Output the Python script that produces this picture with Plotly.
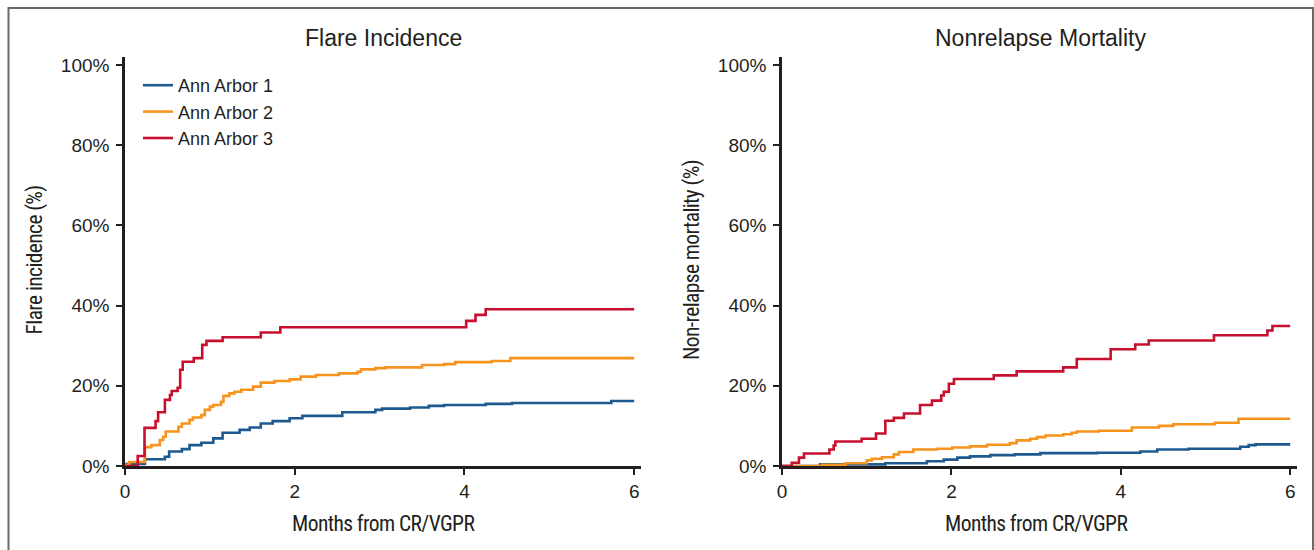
import plotly.graph_objects as go

# ---- Data (months, cumulative %) ----
flare_aa1_x = [0, 0.235, 0.47, 0.52, 0.67, 0.76, 0.90, 1.04, 1.15, 1.35, 1.47, 1.60, 1.74, 1.94, 2.09, 2.56, 2.95, 3.03, 3.36, 3.58, 3.76, 4.25, 4.56, 5.73, 6.0]
flare_aa1_y = [0.5, 1.7, 2.3, 3.6, 4.2, 5.2, 5.8, 6.9, 8.3, 9.0, 9.6, 10.6, 11.2, 11.9, 12.5, 13.4, 14.0, 14.3, 14.6, 15.0, 15.2, 15.5, 15.7, 16.2, 16.2]

flare_aa2_x = [0, 0.05, 0.235, 0.31, 0.41, 0.45, 0.48, 0.63, 0.67, 0.76, 0.80, 0.90, 0.94, 1.0, 1.04, 1.13, 1.16, 1.23, 1.29, 1.37, 1.51, 1.60, 1.76, 1.94, 2.07, 2.25, 2.52, 2.74, 2.78, 2.95, 3.07, 3.5, 3.76, 3.89, 4.32, 4.54, 6.0]
flare_aa2_y = [0.3, 1.0, 4.7, 5.2, 6.5, 7.3, 8.6, 9.8, 10.6, 11.5, 12.1, 12.7, 14.0, 14.8, 15.2, 16.0, 17.5, 18.1, 18.5, 19.0, 19.8, 20.8, 21.2, 21.6, 22.3, 22.7, 23.1, 23.5, 24.1, 24.4, 24.6, 25.2, 25.4, 25.9, 26.2, 26.9, 26.9]

flare_aa3_x = [0, 0.15, 0.23, 0.36, 0.39, 0.47, 0.53, 0.55, 0.62, 0.65, 0.68, 0.81, 0.91, 0.96, 1.15, 1.60, 1.83, 4.02, 4.13, 4.25, 6.0]
flare_aa3_y = [0.0, 2.5, 9.5, 11.2, 13.4, 16.5, 17.7, 18.7, 19.5, 24.0, 26.0, 26.9, 30.2, 31.2, 32.1, 33.3, 34.6, 36.2, 37.7, 39.1, 39.1]

nrm_aa1_x = [0, 0.45, 1.22, 1.71, 1.91, 2.07, 2.22, 2.46, 2.75, 3.05, 3.72, 4.23, 4.43, 4.80, 5.41, 5.51, 5.59, 6.0]
nrm_aa1_y = [0.0, 0.4, 0.7, 1.2, 1.6, 2.1, 2.4, 2.7, 2.9, 3.2, 3.3, 3.6, 4.1, 4.3, 4.8, 5.2, 5.4, 5.4]

nrm_aa2_x = [0, 0.47, 0.75, 1.0, 1.06, 1.18, 1.32, 1.38, 1.55, 1.83, 2.01, 2.22, 2.42, 2.69, 2.77, 2.93, 3.01, 3.11, 3.32, 3.42, 3.48, 3.74, 4.13, 4.45, 4.62, 5.11, 5.39, 6.0]
nrm_aa2_y = [0.0, 0.3, 0.7, 1.4, 1.8, 2.2, 2.9, 3.5, 4.1, 4.3, 4.6, 4.9, 5.3, 5.7, 6.4, 6.8, 7.2, 7.6, 7.9, 8.3, 8.6, 8.8, 9.6, 10.0, 10.4, 10.8, 11.8, 11.8]

nrm_aa3_x = [0, 0.115, 0.20, 0.26, 0.56, 0.61, 0.63, 0.94, 1.11, 1.22, 1.32, 1.44, 1.63, 1.77, 1.88, 1.91, 1.97, 2.03, 2.50, 2.77, 3.32, 3.48, 3.88, 4.17, 4.33, 5.10, 5.73, 5.79, 6.0]
nrm_aa3_y = [0.0, 0.8, 2.1, 3.1, 4.1, 5.1, 6.1, 6.8, 8.1, 11.3, 12.0, 13.1, 15.2, 16.3, 17.6, 18.5, 20.5, 21.7, 22.6, 23.6, 24.6, 26.7, 29.1, 30.3, 31.3, 32.6, 33.8, 34.9, 34.9]

series_names = ["Ann Arbor 1", "Ann Arbor 2", "Ann Arbor 3"]
colors = ["#1d5a8f", "#f7941d", "#c8102e"]

x_ticks = [0, 2, 4, 6]
y_ticks = [0, 20, 40, 60, 80, 100]
y_ticklabels = ["0%", "20%", "40%", "60%", "80%", "100%"]

W, H = 1314, 550
fig = go.Figure()

flare = [(flare_aa1_x, flare_aa1_y), (flare_aa2_x, flare_aa2_y), (flare_aa3_x, flare_aa3_y)]
nrm = [(nrm_aa1_x, nrm_aa1_y), (nrm_aa2_x, nrm_aa2_y), (nrm_aa3_x, nrm_aa3_y)]

for i, (xs, ys) in enumerate(flare):
    fig.add_trace(go.Scatter(x=xs, y=ys, mode="lines", line=dict(color=colors[i], width=2.6, shape="hv"),
                             name=series_names[i], xaxis="x", yaxis="y", showlegend=True))
for i, (xs, ys) in enumerate(nrm):
    fig.add_trace(go.Scatter(x=xs, y=ys, mode="lines", line=dict(color=colors[i], width=2.6, shape="hv"),
                             name=series_names[i], xaxis="x2", yaxis="y2", showlegend=False))

REG = "Liberation Sans, Arial, sans-serif"
COND = "Roboto"
tickfont = dict(family=REG, size=19, color="#231f20")
common_x = dict(range=[0, 6.08], tickvals=x_ticks, showgrid=False, zeroline=False, showline=True,
                linecolor="#231f20", linewidth=2.5, ticks="outside", ticklen=6, tickwidth=2,
                tickcolor="#231f20", tickfont=tickfont, automargin=False, fixedrange=True)
common_y = dict(range=[0, 102], tickvals=y_ticks, ticktext=y_ticklabels, showgrid=False, zeroline=False,
                showline=True, linecolor="#231f20", linewidth=2.5, ticks="outside", ticklen=6, tickwidth=2,
                tickcolor="#231f20", tickfont=tickfont, automargin=False, fixedrange=True,
                ticklabelstandoff=3)

y0, y1 = 1 - 466 / H, 1 - 57 / H
fig.update_layout(
    width=W, height=H,
    margin=dict(l=0, r=0, t=0, b=0),
    paper_bgcolor="white", plot_bgcolor="white",
    xaxis=dict(domain=[125 / W, 641 / W], anchor="y", **common_x),
    yaxis=dict(domain=[y0, y1], anchor="x", **common_y),
    xaxis2=dict(domain=[782 / W, 1297 / W], anchor="y2", **common_x),
    yaxis2=dict(domain=[y0, y1], anchor="x2", **common_y),
    legend=dict(x=138 / W, y=1 - 67 / H, xanchor="left", yanchor="top", bgcolor="rgba(0,0,0,0)",
                font=dict(family=REG, size=18, color="#231f20"),
                tracegroupgap=0, itemwidth=30),
    showlegend=True,
)

annos = [
    dict(text="Flare Incidence", x=383 / W, y=1 - 38 / H, size=23, angle=0, cond=False),
    dict(text="Nonrelapse Mortality", x=1040 / W, y=1 - 38 / H, size=23, angle=0, cond=False),
    dict(text="Months from CR/VGPR", x=383 / W, y=1 - 523 / H, size=21.5, angle=0, cond=True),
    dict(text="Months from CR/VGPR", x=1036 / W, y=1 - 523 / H, size=21.5, angle=0, cond=True),
    dict(text="Flare incidence (%)", x=35 / W, y=1 - 260 / H, size=21.5, angle=-90, cond=True),
    dict(text="Non-relapse mortality (%)", x=692 / W, y=1 - 260 / H, size=21.5, angle=-90, cond=True),
]
for a in annos:
    fam = COND if a["cond"] else REG
    fig.add_annotation(text=a["text"], x=a["x"], y=a["y"], xref="paper", yref="paper", showarrow=False,
                       xanchor="center", yanchor="middle", textangle=a["angle"],
                       font=dict(family=fam, size=a["size"], color="#231f20"))

# outer frame
fig.add_shape(type="rect", xref="paper", yref="paper", x0=8.5 / W, x1=1313 / W, y0=-0.05, y1=1 - 8 / H,
              line=dict(color="#6a6a6a", width=2), fillcolor="rgba(0,0,0,0)", layer="below")

post = """
document.body.style.margin='0';document.body.style.padding='0';
document.querySelectorAll('.annotation-text').forEach(function(t){
  if ((t.style.fontFamily||'').indexOf('Roboto')>=0) { t.style.fontStretch='75%'; t.style.letterSpacing='-0.6px'; }
});
"""
fig.write_html("out.html", post_script=post, config={"displayModeBar": False})
